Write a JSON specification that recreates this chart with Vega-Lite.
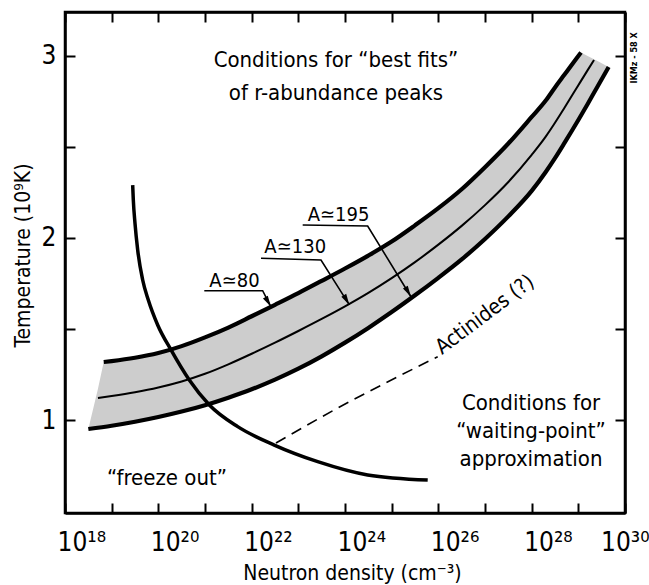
{
  "$schema": "https://vega.github.io/schema/vega-lite/v6.json",
  "width": 560,
  "height": 501,
  "autosize": {"type": "none"},
  "padding": {"left": 65, "top": 12, "right": 24, "bottom": 72},
  "background": "white",
  "config": {
    "font": "DejaVu Sans Condensed, Liberation Sans, sans-serif",
    "view": {"stroke": "black", "strokeWidth": 2.5},
    "axis": {
      "grid": false, "domainColor": "black", "domainWidth": 2.5,
      "tickColor": "black", "tickWidth": 2, "tickSize": -10,
      "labelColor": "black", "titleColor": "black",
      "labelFontSize": 26, "titleFontSize": 21, "titleFontWeight": "normal",
      "labelOverlap": false, "labelBound": false, "labelFlush": false
    }
  },
  "datasets": {
    "band": [
      {"n": 3.162e18, "T_hi": 0.951, "T_lo": 0.951},
      {"n": 5.09e18, "T_hi": 1.172, "T_lo": 0.958},
      {"n": 6.76e18, "T_hi": 1.319, "T_lo": 0.964},
      {"n": 1e19, "T_hi": 1.324, "T_lo": 0.969},
      {"n": 3.162e19, "T_hi": 1.342, "T_lo": 0.991},
      {"n": 1e20, "T_hi": 1.368, "T_lo": 1.017},
      {"n": 3.162e20, "T_hi": 1.406, "T_lo": 1.047},
      {"n": 1e21, "T_hi": 1.454, "T_lo": 1.082},
      {"n": 3.162e21, "T_hi": 1.508, "T_lo": 1.123},
      {"n": 1e22, "T_hi": 1.570, "T_lo": 1.169},
      {"n": 3.162e22, "T_hi": 1.633, "T_lo": 1.222},
      {"n": 1e23, "T_hi": 1.697, "T_lo": 1.282},
      {"n": 3.162e23, "T_hi": 1.764, "T_lo": 1.350},
      {"n": 1e24, "T_hi": 1.832, "T_lo": 1.425},
      {"n": 3.162e24, "T_hi": 1.903, "T_lo": 1.506},
      {"n": 1e25, "T_hi": 1.980, "T_lo": 1.593},
      {"n": 3.162e25, "T_hi": 2.069, "T_lo": 1.685},
      {"n": 1e26, "T_hi": 2.163, "T_lo": 1.781},
      {"n": 3.162e26, "T_hi": 2.267, "T_lo": 1.882},
      {"n": 1e27, "T_hi": 2.388, "T_lo": 1.994},
      {"n": 3.162e27, "T_hi": 2.518, "T_lo": 2.118},
      {"n": 1e28, "T_hi": 2.664, "T_lo": 2.258},
      {"n": 2e28, "T_hi": 2.754, "T_lo": 2.362},
      {"n": 3.162e28, "T_hi": 2.826, "T_lo": 2.438},
      {"n": 5.012e28, "T_hi": 2.895, "T_lo": 2.520},
      {"n": 1e29, "T_hi": 2.999, "T_lo": 2.647},
      {"n": 1.14e29, "T_hi": 3.018, "T_lo": 2.672},
      {"n": 1.585e29, "T_hi": 2.999, "T_lo": 2.735},
      {"n": 2.512e29, "T_hi": 2.972, "T_lo": 2.826},
      {"n": 4.467e29, "T_hi": 2.938, "T_lo": 2.938}
    ],
    "curves": [
      {"curve": "A80", "n": 6.76e18, "T": 1.319},
      {"curve": "A80", "n": 1e19, "T": 1.324},
      {"curve": "A80", "n": 3.162e19, "T": 1.342},
      {"curve": "A80", "n": 1e20, "T": 1.368},
      {"curve": "A80", "n": 3.162e20, "T": 1.406},
      {"curve": "A80", "n": 1e21, "T": 1.454},
      {"curve": "A80", "n": 3.162e21, "T": 1.508},
      {"curve": "A80", "n": 1e22, "T": 1.570},
      {"curve": "A80", "n": 3.162e22, "T": 1.633},
      {"curve": "A80", "n": 1e23, "T": 1.697},
      {"curve": "A80", "n": 3.162e23, "T": 1.764},
      {"curve": "A80", "n": 1e24, "T": 1.832},
      {"curve": "A80", "n": 3.162e24, "T": 1.903},
      {"curve": "A80", "n": 1e25, "T": 1.980},
      {"curve": "A80", "n": 3.162e25, "T": 2.069},
      {"curve": "A80", "n": 1e26, "T": 2.163},
      {"curve": "A80", "n": 3.162e26, "T": 2.267},
      {"curve": "A80", "n": 1e27, "T": 2.388},
      {"curve": "A80", "n": 3.162e27, "T": 2.518},
      {"curve": "A80", "n": 1e28, "T": 2.664},
      {"curve": "A80", "n": 2e28, "T": 2.754},
      {"curve": "A80", "n": 3.162e28, "T": 2.826},
      {"curve": "A80", "n": 5.012e28, "T": 2.895},
      {"curve": "A80", "n": 1e29, "T": 2.999},
      {"curve": "A80", "n": 1.14e29, "T": 3.018},
      {"curve": "A130", "n": 5.09e18, "T": 1.121},
      {"curve": "A130", "n": 1e19, "T": 1.132},
      {"curve": "A130", "n": 3.162e19, "T": 1.153},
      {"curve": "A130", "n": 1e20, "T": 1.179},
      {"curve": "A130", "n": 3.162e20, "T": 1.212},
      {"curve": "A130", "n": 1e21, "T": 1.254},
      {"curve": "A130", "n": 3.162e21, "T": 1.306},
      {"curve": "A130", "n": 1e22, "T": 1.364},
      {"curve": "A130", "n": 3.162e22, "T": 1.425},
      {"curve": "A130", "n": 1e23, "T": 1.489},
      {"curve": "A130", "n": 3.162e23, "T": 1.555},
      {"curve": "A130", "n": 1e24, "T": 1.624},
      {"curve": "A130", "n": 3.162e24, "T": 1.698},
      {"curve": "A130", "n": 1e25, "T": 1.779},
      {"curve": "A130", "n": 3.162e25, "T": 1.867},
      {"curve": "A130", "n": 1e26, "T": 1.963},
      {"curve": "A130", "n": 3.162e26, "T": 2.066},
      {"curve": "A130", "n": 1e27, "T": 2.180},
      {"curve": "A130", "n": 3.162e27, "T": 2.307},
      {"curve": "A130", "n": 1e28, "T": 2.456},
      {"curve": "A130", "n": 2e28, "T": 2.556},
      {"curve": "A130", "n": 3.162e28, "T": 2.632},
      {"curve": "A130", "n": 5.012e28, "T": 2.713},
      {"curve": "A130", "n": 1e29, "T": 2.838},
      {"curve": "A130", "n": 1.585e29, "T": 2.921},
      {"curve": "A130", "n": 2.17e29, "T": 2.977},
      {"curve": "A195", "n": 3.162e18, "T": 0.951},
      {"curve": "A195", "n": 1e19, "T": 0.969},
      {"curve": "A195", "n": 3.162e19, "T": 0.991},
      {"curve": "A195", "n": 1e20, "T": 1.017},
      {"curve": "A195", "n": 3.162e20, "T": 1.047},
      {"curve": "A195", "n": 1e21, "T": 1.082},
      {"curve": "A195", "n": 3.162e21, "T": 1.123},
      {"curve": "A195", "n": 1e22, "T": 1.169},
      {"curve": "A195", "n": 3.162e22, "T": 1.222},
      {"curve": "A195", "n": 1e23, "T": 1.282},
      {"curve": "A195", "n": 3.162e23, "T": 1.350},
      {"curve": "A195", "n": 1e24, "T": 1.425},
      {"curve": "A195", "n": 3.162e24, "T": 1.506},
      {"curve": "A195", "n": 1e25, "T": 1.593},
      {"curve": "A195", "n": 3.162e25, "T": 1.685},
      {"curve": "A195", "n": 1e26, "T": 1.781},
      {"curve": "A195", "n": 3.162e26, "T": 1.882},
      {"curve": "A195", "n": 1e27, "T": 1.994},
      {"curve": "A195", "n": 3.162e27, "T": 2.118},
      {"curve": "A195", "n": 1e28, "T": 2.258},
      {"curve": "A195", "n": 2e28, "T": 2.362},
      {"curve": "A195", "n": 3.162e28, "T": 2.438},
      {"curve": "A195", "n": 5.012e28, "T": 2.520},
      {"curve": "A195", "n": 1e29, "T": 2.647},
      {"curve": "A195", "n": 1.585e29, "T": 2.735},
      {"curve": "A195", "n": 2.512e29, "T": 2.826},
      {"curve": "A195", "n": 4.467e29, "T": 2.938}
    ],
    "freeze": [
      {"n": 2.82e19, "T": 2.290},
      {"n": 2.91e19, "T": 2.208},
      {"n": 3.162e19, "T": 2.080},
      {"n": 3.61e19, "T": 1.934},
      {"n": 4.62e19, "T": 1.769},
      {"n": 6.10e19, "T": 1.659},
      {"n": 9.68e19, "T": 1.522},
      {"n": 1.87e20, "T": 1.385},
      {"n": 4.61e20, "T": 1.220},
      {"n": 1.24e21, "T": 1.083},
      {"n": 5.02e21, "T": 0.964},
      {"n": 3.05e22, "T": 0.863},
      {"n": 2.60e23, "T": 0.772},
      {"n": 3.06e24, "T": 0.699},
      {"n": 5.92e25, "T": 0.671}
    ],
    "actinides": [
      {"n": 3.32e22, "T": 0.874},
      {"n": 5.81e23, "T": 1.055},
      {"n": 1.35e25, "T": 1.238},
      {"n": 9.68e25, "T": 1.348}
    ],
    "leaders": [
      {"label": "A80", "step": 1, "n": 9.66e20, "T": 1.710},
      {"label": "A80", "step": 2, "n": 1.72e22, "T": 1.710},
      {"label": "A80", "step": 3, "n": 2.59e22, "T": 1.622},
      {"label": "A130", "step": 1, "n": 1.585e22, "T": 1.888},
      {"label": "A130", "step": 2, "n": 3.06e23, "T": 1.879},
      {"label": "A130", "step": 3, "n": 1.24e24, "T": 1.632},
      {"label": "A195", "step": 1, "n": 1.24e23, "T": 2.071},
      {"label": "A195", "step": 2, "n": 3.06e24, "T": 2.065},
      {"label": "A195", "step": 3, "n": 2.59e25, "T": 1.677}
    ],
    "heads": [
      {"label": "A80", "n": 2.59e22, "T": 1.622},
      {"label": "A130", "n": 1.24e24, "T": 1.632},
      {"label": "A195", "n": 2.59e25, "T": 1.677}
    ],
    "alabels": [
      {"text": "A≃80", "n": 1.24e21, "T": 1.732},
      {"text": "A≃130", "n": 1.87e22, "T": 1.915},
      {"text": "A≃195", "n": 1.585e23, "T": 2.094}
    ],
    "notes": [
      {"text": "Conditions for “best fits”", "n": 6.41e23, "T": 2.938},
      {"text": "of r-abundance peaks", "n": 6.41e23, "T": 2.757},
      {"text": "Conditions for", "n": 9.68e27, "T": 1.055},
      {"text": "“waiting-point”", "n": 9.68e27, "T": 0.902},
      {"text": "approximation", "n": 9.68e27, "T": 0.748},
      {"text": "“freeze out”", "n": 1.535e20, "T": 0.644}
    ],
    "actlabel": [
      {"text": "Actinides (?)", "n": 1.2e26, "T": 1.357}
    ],
    "stamp": [
      {"text": "IKMz - 58 X", "n": 1.56e30, "T": 2.988}
    ]
  },
  "encoding": {
    "x": {"field": "n", "type": "quantitative", "scale": {"type": "log", "domain": [1e18, 1e30], "nice": false}, "axis": null},
    "y": {"field": "T", "type": "quantitative", "scale": {"domain": [0.49, 3.24], "nice": false, "zero": false}, "axis": null}
  },
  "resolve": {"axis": {"x": "independent", "y": "independent"}},
  "layer": [
    {
      "data": {"name": "band"},
      "mark": {"type": "area", "color": "#cdcdcd", "interpolate": "linear"},
      "encoding": {
        "x": {
          "field": "n", "type": "quantitative",
          "scale": {"type": "log", "domain": [1e18, 1e30], "nice": false},
          "axis": {
            "orient": "bottom",
            "values": [1e18, 1e19, 1e20, 1e21, 1e22, 1e23, 1e24, 1e25, 1e26, 1e27, 1e28, 1e29, 1e30],
            "labelExpr": "round(log(datum.value) / LN10) == 18 ? '10¹⁸' : round(log(datum.value) / LN10) == 20 ? '10²⁰' : round(log(datum.value) / LN10) == 22 ? '10²²' : round(log(datum.value) / LN10) == 24 ? '10²⁴' : round(log(datum.value) / LN10) == 26 ? '10²⁶' : round(log(datum.value) / LN10) == 28 ? '10²⁸' : ''",
            "labelAlign": "left",
            "labelOffset": -8,
            "labelBaseline": "top",
            "labelPadding": 26,
            "title": "Neutron density (cm⁻³)",
            "titleX": 287,
            "titleY": 66,
            "titleBaseline": "alphabetic"
          }
        },
        "y": {
          "field": "T_hi", "type": "quantitative",
          "scale": {"domain": [0.49, 3.24], "nice": false, "zero": false},
          "axis": {
            "orient": "left",
            "values": [1, 1.5, 2, 2.5, 3],
            "labelExpr": "datum.value % 1 == 0 ? format(datum.value, 'd') : ''",
            "labelPadding": 19,
            "title": "Temperature (10⁹K)",
            "titleX": -36,
            "titleY": 243,
            "titleBaseline": "alphabetic"
          }
        },
        "y2": {"field": "T_lo"}
      }
    },
    {
      "data": {"name": "notes"},
      "mark": {"type": "point", "opacity": 0},
      "encoding": {
        "x": {
          "field": "n", "type": "quantitative",
          "scale": {"type": "log", "domain": [1e18, 1e30], "nice": false},
          "axis": {
            "orient": "top",
            "values": [1e18, 1e19, 1e20, 1e21, 1e22, 1e23, 1e24, 1e25, 1e26, 1e27, 1e28, 1e29, 1e30],
            "labels": false, "title": null
          }
        },
        "y": {
          "field": "T", "type": "quantitative",
          "scale": {"domain": [0.49, 3.24], "nice": false, "zero": false},
          "axis": {"orient": "right", "values": [1, 1.5, 2, 2.5, 3], "labels": false, "title": null}
        }
      }
    },
    {
      "data": {"name": "stamp"},
      "mark": {"type": "point", "opacity": 0},
      "encoding": {
        "x": {
          "field": "n", "type": "quantitative",
          "scale": {"type": "log", "domain": [1e18, 1e30], "nice": false},
          "axis": {
            "orient": "bottom",
            "values": [1e30],
            "labelExpr": "'10³⁰'",
            "labelAlign": "right",
            "labelOffset": 24,
            "labelBaseline": "top",
            "labelPadding": 16,
            "ticks": false,
            "domain": false,
            "title": null
          }
        },
        "y": {
          "field": "T", "type": "quantitative",
          "scale": {"domain": [0.49, 3.24], "nice": false, "zero": false},
          "axis": null
        }
      }
    },
    {
      "data": {"name": "curves"},
      "transform": [{"filter": "datum.curve != 'A130'"}],
      "mark": {"type": "line", "color": "black", "strokeWidth": 4.2, "interpolate": "monotone", "strokeCap": "butt"},
      "encoding": {"detail": {"field": "curve"}}
    },
    {
      "data": {"name": "curves"},
      "transform": [{"filter": "datum.curve == 'A130'"}],
      "mark": {"type": "line", "color": "black", "strokeWidth": 2, "interpolate": "monotone", "strokeCap": "butt"},
      "encoding": {"detail": {"field": "curve"}}
    },
    {
      "data": {"name": "freeze"},
      "mark": {"type": "line", "color": "black", "strokeWidth": 3.5, "interpolate": "monotone", "strokeCap": "butt"},
      "encoding": {}
    },
    {
      "data": {"name": "actinides"},
      "mark": {"type": "line", "color": "black", "strokeWidth": 1.6, "strokeDash": [11, 7], "interpolate": "monotone"},
      "encoding": {}
    },
    {
      "data": {"name": "leaders"},
      "mark": {"type": "line", "color": "black", "strokeWidth": 1.6, "interpolate": "linear"},
      "encoding": {"detail": {"field": "label"}, "order": {"field": "step", "type": "quantitative"}}
    },
    {
      "data": {"name": "heads"},
      "mark": {"type": "point", "shape": "M-0.25,-1L0.25,-1L0,0Z", "size": 500, "filled": true, "color": "black", "opacity": 1, "angle": -30}
    },
    {
      "data": {"name": "alabels"},
      "mark": {"type": "text", "align": "left", "baseline": "alphabetic", "fontSize": 20, "color": "black"},
      "encoding": {"text": {"field": "text"}}
    },
    {
      "data": {"name": "notes"},
      "mark": {"type": "text", "align": "center", "baseline": "alphabetic", "fontSize": 22, "color": "black"},
      "encoding": {"text": {"field": "text"}}
    },
    {
      "data": {"name": "actlabel"},
      "mark": {"type": "text", "align": "left", "baseline": "alphabetic", "fontSize": 21, "angle": -37, "color": "black"},
      "encoding": {"text": {"field": "text"}}
    },
    {
      "data": {"name": "stamp"},
      "mark": {"type": "text", "align": "center", "baseline": "middle", "fontSize": 9, "fontWeight": "bold", "angle": 270, "color": "black"},
      "encoding": {"text": {"field": "text"}}
    }
  ]
}
